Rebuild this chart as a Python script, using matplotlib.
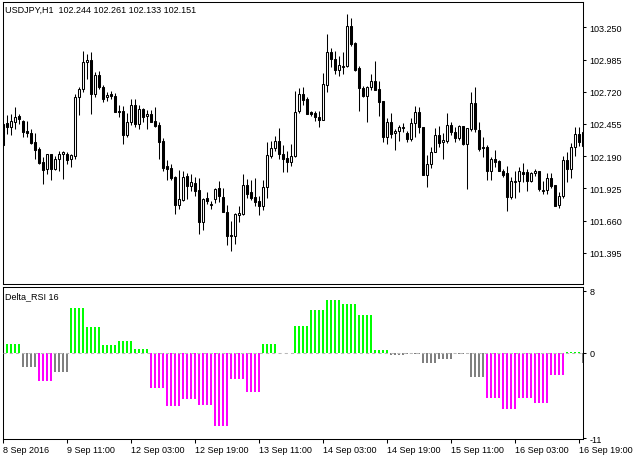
import numpy as np
import matplotlib
matplotlib.use('Agg')
import matplotlib.pyplot as plt
from matplotlib.patches import Rectangle

plt.rcParams['font.family'] = ['Liberation Sans', 'DejaVu Sans']

##### 数据 (USDJPY H1)

opens = [102.455, 102.463, 102.430, 102.471, 102.521, 102.480, 102.397, 102.381, 102.307, 102.249,
         102.143, 102.085, 102.208, 102.085, 102.167, 102.208, 102.208, 102.167, 102.192, 102.677,
         102.743, 102.965, 102.981, 102.702, 102.858, 102.759, 102.677, 102.702, 102.685, 102.562,
         102.562, 102.365, 102.471, 102.611, 102.455, 102.578, 102.521, 102.537, 102.480, 102.447,
         102.315, 102.110, 102.093, 102.019, 101.789, 101.830, 102.027, 101.945, 101.970, 101.912,
         101.649, 101.846, 101.789, 101.838, 101.929, 101.855, 101.731, 101.542, 101.534, 101.707,
         101.715, 101.953, 101.896, 101.855, 101.822, 101.781, 101.937, 102.192, 102.258, 102.315,
         102.208, 102.175, 102.143, 102.192, 102.562, 102.702, 102.661, 102.554, 102.545, 102.513,
         102.488, 102.776, 103.047, 102.990, 102.899, 102.924, 102.932, 103.261, 103.121, 102.916,
         102.751, 102.685, 102.759, 102.809, 102.743, 102.644, 102.348, 102.471, 102.381, 102.397,
         102.422, 102.381, 102.332, 102.463, 102.554, 102.430, 102.036, 102.126, 102.225, 102.365,
         102.307, 102.315, 102.447, 102.389, 102.340, 102.439, 102.291, 102.414, 102.628, 102.406,
         102.266, 102.266, 102.068, 102.167, 102.151, 102.068, 102.052, 101.855, 101.978, 101.986,
         102.060, 102.060, 101.986, 102.052, 102.068, 101.904, 101.912, 102.011, 101.953, 101.789,
         101.863, 102.159, 102.085, 102.266, 102.373, 102.274]
highs = [102.480, 102.529, 102.537, 102.595, 102.537, 102.488, 102.480, 102.414, 102.381, 102.266,
         102.184, 102.208, 102.208, 102.192, 102.233, 102.233, 102.225, 102.208, 102.702, 102.759,
         103.055, 103.031, 103.047, 102.883, 102.891, 102.776, 102.718, 102.726, 102.710, 102.611,
         102.603, 102.545, 102.661, 102.661, 102.611, 102.587, 102.570, 102.570, 102.595, 102.471,
         102.340, 102.159, 102.126, 102.027, 102.077, 102.068, 102.052, 102.044, 102.019, 102.011,
         101.846, 101.896, 101.822, 101.929, 101.986, 101.929, 101.789, 101.657, 101.723, 101.781,
         102.044, 102.003, 101.994, 102.011, 101.863, 101.994, 102.307, 102.315, 102.356, 102.422,
         102.282, 102.233, 102.291, 102.726, 102.751, 102.759, 102.677, 102.562, 102.562, 102.562,
         102.874, 103.195, 103.080, 103.055, 103.014, 103.047, 103.360, 103.327, 103.129, 102.932,
         102.768, 102.768, 102.866, 102.973, 102.809, 102.644, 102.504, 102.545, 102.414, 102.447,
         102.463, 102.397, 102.504, 102.603, 102.595, 102.430, 102.200, 102.266, 102.422, 102.439,
         102.381, 102.545, 102.471, 102.430, 102.447, 102.439, 102.422, 102.718, 102.759, 102.471,
         102.348, 102.282, 102.184, 102.241, 102.159, 102.085, 102.110, 102.019, 102.068, 102.101,
         102.134, 102.085, 102.060, 102.085, 102.068, 101.986, 102.052, 102.052, 101.953, 101.896,
         102.192, 102.225, 102.299, 102.430, 102.430, 102.414]
lows = [102.266, 102.373, 102.365, 102.414, 102.455, 102.348, 102.348, 102.291, 102.167, 102.126,
        101.961, 102.044, 101.994, 102.077, 102.068, 102.003, 102.126, 102.101, 102.167, 102.529,
        102.718, 102.825, 102.537, 102.677, 102.743, 102.636, 102.644, 102.661, 102.554, 102.513,
        102.291, 102.348, 102.447, 102.430, 102.414, 102.471, 102.414, 102.471, 102.430, 102.167,
        102.068, 101.994, 101.994, 101.715, 101.756, 101.822, 101.838, 101.904, 101.863, 101.550,
        101.583, 101.797, 101.756, 101.805, 101.813, 101.731, 101.460, 101.411, 101.468, 101.649,
        101.707, 101.846, 101.830, 101.781, 101.707, 101.748, 101.846, 102.175, 102.233, 102.167,
        102.060, 102.060, 102.110, 102.184, 102.545, 102.611, 102.537, 102.521, 102.480, 102.430,
        102.488, 102.718, 102.924, 102.866, 102.850, 102.866, 102.924, 103.096, 102.891, 102.562,
        102.677, 102.471, 102.735, 102.735, 102.521, 102.307, 102.291, 102.340, 102.241, 102.315,
        102.389, 102.307, 102.315, 102.348, 102.381, 102.036, 101.937, 102.093, 102.225, 102.266,
        102.167, 102.299, 102.365, 102.307, 102.323, 102.282, 101.920, 102.397, 102.389, 102.233,
        102.184, 101.994, 101.994, 102.101, 102.068, 102.019, 101.739, 101.838, 101.846, 101.896,
        101.978, 101.904, 101.978, 102.027, 101.904, 101.879, 101.879, 101.929, 101.781, 101.764,
        101.846, 101.978, 102.011, 102.192, 102.274, 102.258]
closes = [102.282, 102.430, 102.480, 102.513, 102.496, 102.389, 102.381, 102.299, 102.241, 102.134,
          102.077, 102.208, 102.085, 102.167, 102.208, 102.225, 102.159, 102.200, 102.677, 102.743,
          102.965, 102.981, 102.702, 102.858, 102.759, 102.661, 102.694, 102.685, 102.554, 102.554,
          102.365, 102.471, 102.611, 102.455, 102.578, 102.513, 102.537, 102.471, 102.439, 102.307,
          102.093, 102.085, 102.011, 101.789, 101.838, 102.019, 101.945, 101.978, 101.904, 101.649,
          101.838, 101.822, 101.797, 101.920, 101.863, 101.731, 101.534, 101.534, 101.715, 101.723,
          101.953, 101.879, 101.846, 101.813, 101.781, 101.937, 102.200, 102.258, 102.315, 102.208,
          102.167, 102.143, 102.192, 102.554, 102.702, 102.652, 102.537, 102.537, 102.513, 102.488,
          102.784, 103.047, 102.990, 102.899, 102.940, 102.932, 103.261, 103.113, 102.899, 102.751,
          102.685, 102.759, 102.809, 102.735, 102.636, 102.348, 102.471, 102.373, 102.397, 102.430,
          102.430, 102.332, 102.463, 102.554, 102.430, 102.036, 102.126, 102.225, 102.365, 102.299,
          102.323, 102.447, 102.389, 102.340, 102.439, 102.291, 102.422, 102.628, 102.414, 102.249,
          102.258, 102.068, 102.167, 102.143, 102.068, 102.036, 101.855, 101.986, 101.986, 102.068,
          102.044, 101.986, 102.052, 102.068, 101.920, 101.912, 102.011, 101.945, 101.781, 101.863,
          102.159, 102.085, 102.266, 102.373, 102.307, 102.389]

# Delta_RSI 16 (H4 值, 每组4根H1)
delta_vals = [1.15, -1.8, -3.6, -2.5, 5.8, 3.3, 1.0, 1.5, 0.5, -4.5, -6.9, -5.9, -6.7, -9.4, -3.3,
              -5.1, 1.15, 0.0, 3.5, 5.5, 6.8, 6.3, 4.9, 0.4, -0.3, -0.15, -1.25, -0.75, -0.15, -3.05,
              -5.75, -7.2, -5.75, -6.4, -2.9, 0.15, -1.25]
delta_cols = ['lime', 'gray', 'magenta', 'gray', 'lime', 'lime', 'lime', 'lime', 'lime',
              'magenta', 'magenta', 'magenta', 'magenta', 'magenta', 'magenta', 'magenta',
              'lime', 'gray', 'lime', 'lime', 'lime', 'lime', 'lime', 'lime',
              'gray', 'gray', 'gray', 'gray', 'gray', 'gray',
              'magenta', 'magenta', 'magenta', 'magenta', 'magenta', 'lime', 'gray']

price_ticks = [103.250, 102.985, 102.720, 102.455, 102.190, 101.925, 101.660, 101.395]
time_labels = ['8 Sep 2016', '9 Sep 11:00', '12 Sep 03:00', '12 Sep 19:00', '13 Sep 11:00',
               '14 Sep 03:00', '14 Sep 19:00', '15 Sep 11:00', '16 Sep 03:00', '16 Sep 19:00']

num = len(opens)
W, H = 635, 460
fs = 6.5

fig = plt.figure(figsize=(W / 100, H / 100), dpi=100)
ax = fig.add_axes([3 / W, 1 - 285 / H, 580 / W, 282 / H])
ax2 = fig.add_axes([3 / W, 1 - 440 / H, 580 / W, 152 / H])

##### 蜡烛图
for k in range(num):
    o, h, l, c = opens[k], highs[k], lows[k], closes[k]
    ax.vlines(k, l, h, color='black', lw=0.75, zorder=1)
    bull = c >= o
    ax.add_patch(Rectangle((k - 0.3, min(o, c)), 0.6, abs(c - o),
                           facecolor='white' if bull else 'black',
                           edgecolor='black', lw=0.75, zorder=2))

ax.set_xlim(0, num - 1)
ax.set_ylim(101.139, 103.458)
ax.set_xticks([])
ax.yaxis.tick_right()
ax.set_yticks(price_ticks)
ax.set_yticklabels(['%.3f' % p for p in price_ticks])
ax.tick_params(axis='y', direction='out', length=2.5, width=0.75, pad=2, labelsize=fs)

##### 指标
vals = np.repeat(delta_vals, 4)[:num - 1]
cols = np.repeat(delta_cols, 4)[:num - 1]
xs = np.arange(1, num)
ax2.bar(xs, vals, width=0.5, color=cols, linewidth=0, zorder=2)
ax2.axhline(0, color='#b8b8b8', lw=0.75, ls=(0, (3, 3)), zorder=3)
ax2.set_xlim(0, num - 1)
ax2.set_ylim(-11.1, 8.5)
ax2.yaxis.tick_right()
ax2.set_yticks([8, 0, -11])
ax2.set_yticklabels(['8', '0', '-11'])
ax2.tick_params(axis='y', direction='out', length=2.5, width=0.75, pad=2, labelsize=fs)
ax2.set_xticks(np.arange(0, num, 16))
ax2.set_xticklabels(time_labels, ha='left')
ax2.tick_params(axis='x', direction='out', length=3, width=0.75, pad=1.5, labelsize=fs)

for a in (ax, ax2):
    for s in a.spines.values():
        s.set_linewidth(0.75)

fig.text(5 / W, 1 - 10 / H, 'USDJPY,H1  102.244 102.261 102.133 102.151', fontsize=fs, va='center')
fig.text(5 / W, 1 - 297 / H, 'Delta_RSI 16', fontsize=fs, va='center')

plt.savefig('out.png', dpi=100)
